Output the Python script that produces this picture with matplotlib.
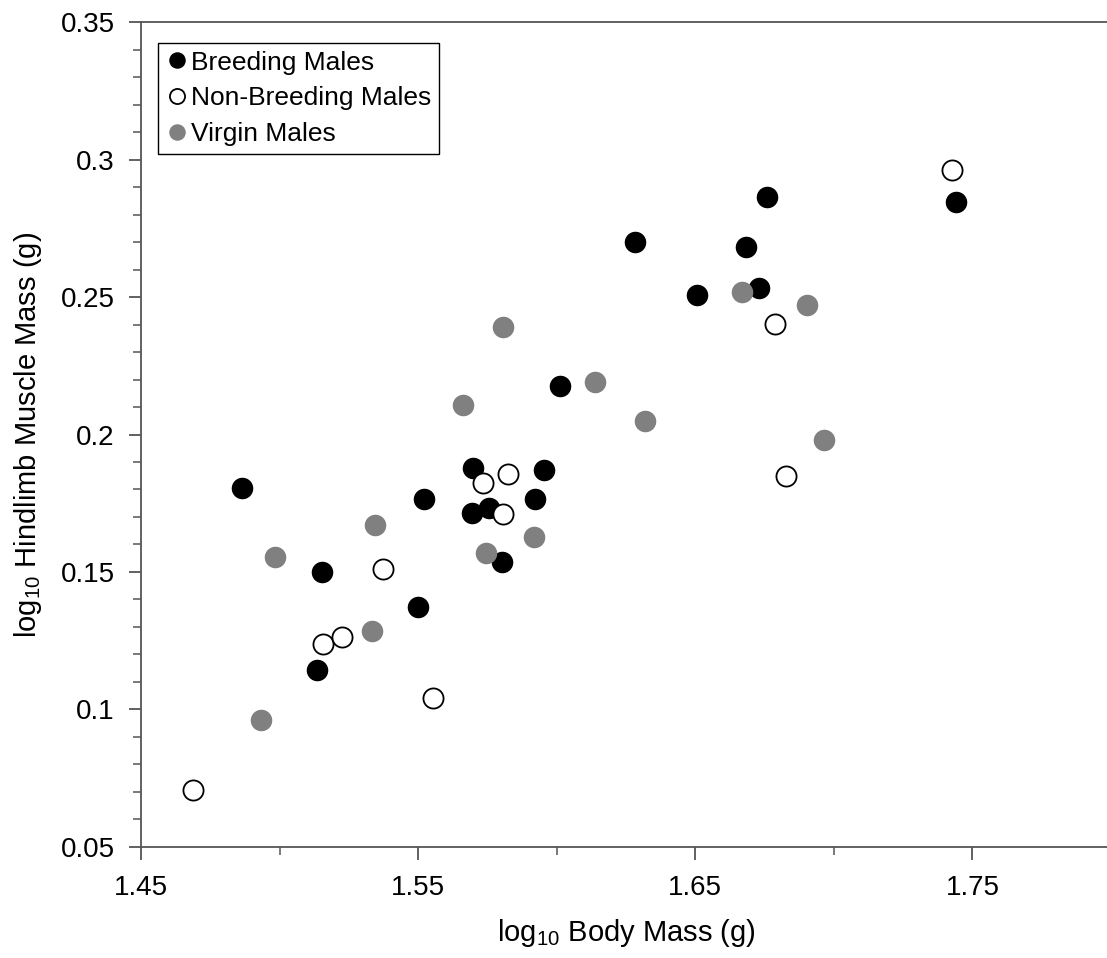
import matplotlib
matplotlib.use("Agg")
import matplotlib.pyplot as plt
from matplotlib.ticker import MultipleLocator, FixedLocator, FuncFormatter

plt.rcParams['font.family'] = ['Liberation Sans', 'DejaVu Sans']
plt.rcParams['mathtext.fontset'] = 'custom'
plt.rcParams['mathtext.rm'] = 'Liberation Sans'

# log10 body mass / log10 hindlimb muscle mass
breeding_x = [1.4864, 1.5153, 1.5135, 1.5521, 1.5499, 1.5698, 1.5694, 1.5755, 1.5802,
              1.5921, 1.5954, 1.6012, 1.6282, 1.6506, 1.6683, 1.6729, 1.6758, 1.7440]
breeding_y = [0.1805, 0.1500, 0.1144, 0.1765, 0.1373, 0.1878, 0.1715, 0.1733, 0.1536,
              0.1765, 0.1871, 0.2176, 0.2700, 0.2507, 0.2682, 0.2533, 0.2864, 0.2845]

nonbreeding_x = [1.4688, 1.5157, 1.5225, 1.5373, 1.5553, 1.5734, 1.5824, 1.5806,
                 1.6787, 1.6827, 1.7426]
nonbreeding_y = [0.0707, 0.1238, 0.1264, 0.1511, 0.1042, 0.1824, 0.1856, 0.1711,
                 0.2402, 0.1849, 0.2962]

virgin_x = [1.4933, 1.4983, 1.5333, 1.5344, 1.5662, 1.5745, 1.5806, 1.5918, 1.6138,
            1.6318, 1.6668, 1.6903, 1.6964]
virgin_y = [0.0962, 0.1555, 0.1285, 0.1671, 0.2107, 0.1569, 0.2391, 0.1627, 0.2191,
            0.2049, 0.2518, 0.2471, 0.1980]

xticks = [1.45, 1.55, 1.65, 1.75]

fig = plt.figure(figsize=(11.07, 9.58), dpi=100)
ax = fig.add_axes([0.1274, 0.1159, 0.8762, 0.8611])

ms = 14.5
ax.plot(breeding_x, breeding_y, 'o', ms=ms, mfc='black', mec='black', mew=1,
        label='Breeding Males', zorder=3)
ax.plot(nonbreeding_x, nonbreeding_y, 'o', ms=ms, mfc='white', mec='black', mew=1.3,
        label='Non-Breeding Males', zorder=3)
ax.plot(virgin_x, virgin_y, 'o', ms=ms, mfc='#808080', mec='#808080', mew=1,
        label='Virgin Males', zorder=3)

ax.set_xlim(1.45, 1.80)
ax.set_ylim(0.05, 0.35)
ax.xaxis.set_major_locator(FixedLocator(xticks))
ax.xaxis.set_minor_locator(MultipleLocator(0.05))
ax.yaxis.set_major_locator(MultipleLocator(0.05))
ax.yaxis.set_minor_locator(MultipleLocator(0.01))
ax.xaxis.set_major_formatter(FuncFormatter(lambda v, p: '%.2f' % v))
ax.yaxis.set_major_formatter(FuncFormatter(lambda v, p: '%g' % round(v, 2)))

for s in ['left', 'bottom', 'top']:
    ax.spines[s].set_color('#555555')
    ax.spines[s].set_linewidth(1.3)
ax.spines['right'].set_visible(False)

ax.tick_params(which='major', direction='out', length=9, width=1.3, color='#555555',
               labelsize=20, pad=11)
ax.tick_params(which='minor', direction='out', length=6, width=1.1, color='#555555')
ax.tick_params(axis='y', which='major', pad=10)

ax.set_xlabel(r'log$_\mathregular{10}$ Body Mass (g)', fontsize=21, labelpad=12)
ax.set_ylabel(r'log$_\mathregular{10}$ Hindlimb Muscle Mass (g)', fontsize=21, labelpad=12)

leg = ax.legend(loc='upper left', bbox_to_anchor=(0.017, 0.975), fontsize=19,
                markerscale=0.75, handletextpad=0.05, handlelength=0.9,
                borderpad=0.3, labelspacing=0.45, fancybox=False, framealpha=1,
                borderaxespad=0)
leg.get_frame().set_edgecolor('black')
leg.get_frame().set_linewidth(1.0)

fig.savefig('out.png', dpi=100)
